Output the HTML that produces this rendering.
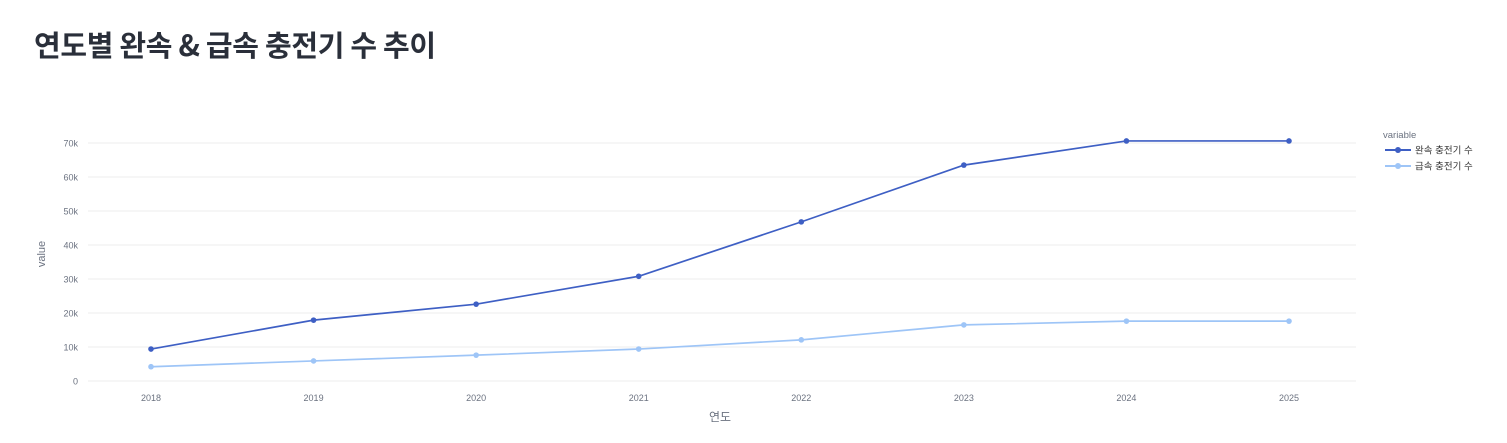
<!DOCTYPE html>
<html><head><meta charset="utf-8"><style>
body{margin:0;background:#fff;width:1507px;height:443px;overflow:hidden;font-family:"Liberation Sans","Noto Sans CJK KR",sans-serif}
h1{position:absolute;left:34px;top:23px;margin:0;font-size:29px;font-weight:700;color:#2a2f3a;font-family:"Noto Sans CJK KR","Liberation Sans",sans-serif;letter-spacing:-0.3px}
</style></head><body>
<h1>연도별 완속 &amp; 급속 충전기 수 추이</h1>
<svg id="c" width="1507" height="443" style="position:absolute;left:0;top:0"></svg>
<script>
const years=[2018,2019,2020,2021,2022,2023,2024,2025];
const slow=[9400,17900,22600,30800,46800,63500,70600,70600];
const fast=[4200,5900,7600,9400,12100,16500,17600,17600];
const yTicks=[0,10000,20000,30000,40000,50000,60000,70000];
const yTickLabels=["0","10k","20k","30k","40k","50k","60k","70k"];
const seriesNames=["완속 충전기 수","급속 충전기 수"];
const colors=["#3e5fc4","#9ec5f7"];
const NS="http://www.w3.org/2000/svg";
const svg=document.getElementById('c');
const X=y=>151+(y-2018)*(1289-151)/7;
const Y=v=>381-v*(381-143)/70000;
function mk(t,a,p){const e=document.createElementNS(NS,t);for(const k in a)e.setAttribute(k,a[k]);(p||svg).appendChild(e);return e;}
yTicks.forEach((v,i)=>{
 const l=mk('line',{x1:88,x2:1356,y1:Y(v),y2:Y(v),stroke:'#ececec','stroke-width':1});
 
 
 const t=mk('text',{x:78,y:Y(v)+3.5,'text-anchor':'end','font-size':9,fill:'#6b7280'});t.textContent=yTickLabels[i];
 
 
});
years.forEach(y=>{
 const t=mk('text',{x:X(y),y:401,'text-anchor':'middle','font-size':9,fill:'#6b7280'});t.textContent=y;
 
 
});
let t=mk('text',{x:720,y:421,'text-anchor':'middle','font-size':12,fill:'#6b7280'});t.textContent='연도';


t=mk('text',{x:45,y:254,'text-anchor':'middle','font-size':11,fill:'#6b7280',transform:'rotate(-90 45 254)'});t.textContent='value';


[slow,fast].forEach((s,k)=>{
 const p=mk('polyline',{points:s.map((v,i)=>X(years[i])+','+Y(v)).join(' '),fill:'none',stroke:colors[k],'stroke-width':1.7});
 
 
 s.forEach((v,i)=>{const c=mk('circle',{cx:X(years[i]),cy:Y(v),r:2.8,fill:colors[k]});
 
 });
});
t=mk('text',{x:1383,y:138,'font-size':9.5,fill:'#6b7280'});t.textContent='variable';


seriesNames.forEach((n,k)=>{
 const y=150+k*16;
 const g=mk('g',{});
 
 
 mk('line',{x1:1385,x2:1411,y1:y,y2:y,stroke:colors[k],'stroke-width':2},g);
 mk('circle',{cx:1398,cy:y,r:3,fill:colors[k]},g);
 const tt=mk('text',{x:1415,y:y+3.5,'font-size':9.5,fill:'#333'},g);tt.textContent=n;
});
</script>
</body></html>
